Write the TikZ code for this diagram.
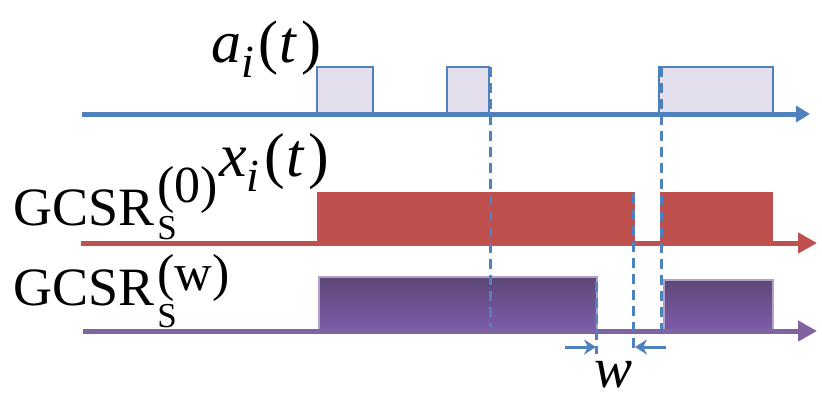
\documentclass[tikz,border=0pt]{standalone}
\usepackage{fontspec}
\setmainfont{Liberation Serif}
\usetikzlibrary{arrows.meta}

\definecolor{sigblue}{HTML}{4F81BD}
\definecolor{siglav}{HTML}{E4DFEC}
\definecolor{sigred}{HTML}{C0504D}
\definecolor{sigpurple}{HTML}{8064A2}
\definecolor{sigpurpledark}{HTML}{5E4878}
\definecolor{sigpurplelight}{HTML}{7C5CA8}

% #1 superscript, #2 raise of superscript, #3 drop of subscript
\newcommand{\gcsrlabel}[3]{GCSR\kern3pt\rlap{\raisebox{#2}{\fontsize{52}{52}\selectfont(#1)}}\raisebox{-#3}{\fontsize{35}{35}\selectfont S}}
\newcommand{\signallabel}[1]{\textit{#1}\raisebox{-15pt}{\fontsize{46}{46}\selectfont\textit{i}}\kern5pt(\kern1pt\textit{t}\kern4pt)}

\tikzset{
    axisline/.style={line width=5pt, -{Triangle[length=19pt,width=20pt]}},
    pulsebox/.style={draw=sigblue, line width=1.5pt, fill=siglav},
    busybox/.style={fill=sigred},
    waitbox/.style={draw=sigpurple!60!white, line width=1.5pt, top color=sigpurpledark, bottom color=sigpurplelight},
    guide/.style={draw=sigblue, line width=3pt, dash pattern=on 10pt off 6pt},
    gaparrow/.style={draw=sigblue, line width=3pt, -{Stealth[length=12pt,width=15pt]}},
    lbl/.style={inner sep=0pt, anchor=base west},
}

\begin{document}
\begin{tikzpicture}[x=1pt,y=-1pt]

    \useasboundingbox (0,0) rectangle (822,408);

    % Axes
    \coordinate (aStart) at (82,114);
    \coordinate (aEnd) at (810,114);
    \coordinate (xStart) at (81,243);
    \coordinate (xEnd) at (817,243);
    \coordinate (wStart) at (83,331);
    \coordinate (wEnd) at (817,331);

    % Arrivals a_i(t)
    \draw[pulsebox] (317,114) rectangle (373,67);
    \draw[pulsebox] (447,114) rectangle (489,67);
    \draw[pulsebox] (659,114) rectangle (773,67);
    \draw[axisline, sigblue, -{Triangle[length=14pt,width=16pt]}] (aStart) -- (aEnd);

    % GCSR with no waiting
    \fill[busybox] (317,243) rectangle (635,192);
    \fill[busybox] (660,243) rectangle (773,192);
    \draw[axisline, sigred] (xStart) -- (xEnd);

    % GCSR with waiting time w
    \draw[waitbox] (319,331) rectangle (597,277);
    \draw[waitbox] (664,331) rectangle (773,280);
    \draw[axisline, sigpurple] (wStart) -- (wEnd);

    % Guides
    \coordinate (g1top) at (490,67);
    \coordinate (g1bot) at (490,327);
    \coordinate (g2top) at (661,67);
    \coordinate (g2bot) at (661,329);
    \coordinate (g3top) at (633,194);
    \coordinate (g3bot) at (633,354);
    \coordinate (g4top) at (596,282);
    \coordinate (g4bot) at (596,354);
    \draw[guide] (g1top) -- (g1bot);
    \draw[guide] (g2top) -- (g2bot);
    \draw[guide] (g3top) -- (g3bot);
    \draw[guide] (g4top) -- (g4bot);

    % Waiting window
    \coordinate (wLeft) at (565,347);
    \coordinate (wLeftTip) at (596,347);
    \coordinate (wRight) at (666,347);
    \coordinate (wRightTip) at (635,347);
    \draw[gaparrow] (wLeft) -- (wLeftTip);
    \draw[gaparrow] (wRight) -- (wRightTip);

    % Labels
    \node[lbl] (lblA) at (211,62) {\fontsize{60}{60}\selectfont\signallabel{a}};
    \node[lbl] (lblX) at (219,176) {\fontsize{62}{62}\selectfont\signallabel{x}};
    \node[lbl] (lblZero) at (13,225) {\fontsize{54}{54}\selectfont\gcsrlabel{0}{23pt}{14pt}};
    \node[lbl] (lblWait) at (13,305) {\fontsize{54}{54}\selectfont\gcsrlabel{w}{15pt}{22pt}};
    \node[lbl] (lblW) at (594,387) {\fontsize{57}{57}\selectfont\textit{w}};

\end{tikzpicture}
\end{document}
